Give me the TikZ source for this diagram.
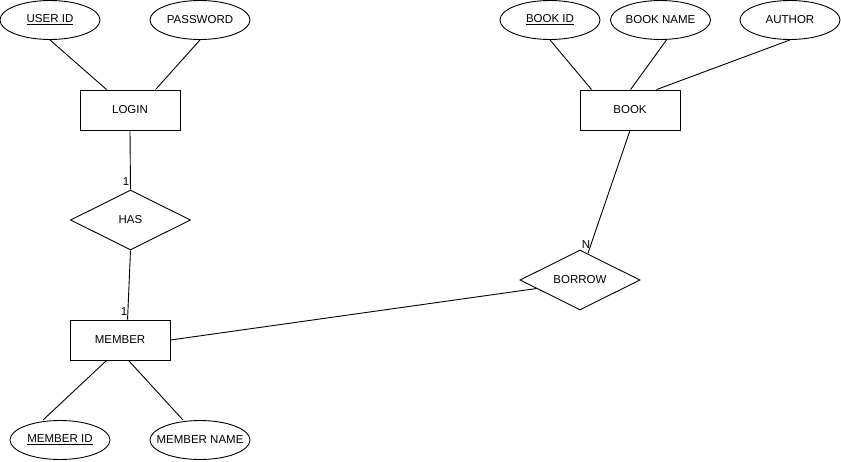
\documentclass[tikz,border=0pt]{standalone}
\usepackage{fontspec}
\setmainfont{Liberation Sans}
\usetikzlibrary{shapes.geometric,calc}
\begin{document}
\begin{tikzpicture}[x=1pt,y=-1pt,
  every node/.style={font=\fontsize{11.5}{14}\selectfont, inner sep=0pt},
  entity/.style={draw, line width=0.9pt, rectangle, minimum width=100pt, minimum height=40pt},
  attr/.style={draw, line width=0.9pt, ellipse, minimum width=100pt, minimum height=39pt},
  rel/.style={draw, line width=0.9pt, diamond, shape aspect=2, minimum width=120pt, minimum height=60pt},
  link/.style={line width=0.9pt},
  card/.style={font=\fontsize{11.5}{14}\selectfont}]
\useasboundingbox (0,0) rectangle (841,461);

% entities
\node[entity] (login)  at (130,110) {LOGIN};
\node[entity] (book)   at (630,110) {BOOK};
\node[entity] (member) at (120,340) {MEMBER};

% relationships
\node[rel] (has)    at (130.5,220) {HAS};
\node[rel] (borrow) at (580,280) {BORROW};

% attributes
\node[attr] (uid)      at (50,20)    {\underline{USER ID}};
\node[attr] (pwd)      at (200,20)   {PASSWORD};
\node[attr] (bookid)   at (550,20)   {\underline{BOOK ID}};
\node[attr] (bookname) at (660.5,20) {BOOK NAME};
\node[attr] (author)   at (790,20)   {AUTHOR};
\node[attr] (mid)      at (60,440)   {\underline{MEMBER ID}};
\node[attr, inner xsep=-12pt] (mname) at (200,440) {MEMBER NAME};

% attribute links
\draw[link] (uid.south) -- ([xshift=27pt]login.north west);
\draw[link] (pwd.south) -- ([xshift=76pt]login.north west);
\draw[link] (bookid.south) -- ([xshift=12pt]book.north west);
\draw[link] ([xshift=6pt]bookname.south) -- ([xshift=51pt]book.north west);
\draw[link] (author.south) -- ([xshift=77pt]book.north west);
\draw[link] ([xshift=-17pt]mid.north) -- ([xshift=37pt]member.south west);
\draw[link] ([xshift=-17pt]mname.north) -- ([xshift=59pt]member.south west);

% relationship links
\draw[link] (login.south) -- (has.north);
\draw[link] (has.south) -- ([xshift=58pt]member.north west);
\draw[link] (member.east) -- ($(borrow.west)!0.28!(borrow.south)$);
\draw[link] (book.south) -- ($(borrow.north)!0.13!(borrow.east)$);

% cardinalities
\node[card] (c1) at (126,182) {1};
\node[card] (c2) at (124,312) {1};
\node[card] (cn) at (586,245) {N};
\end{tikzpicture}
\end{document}
